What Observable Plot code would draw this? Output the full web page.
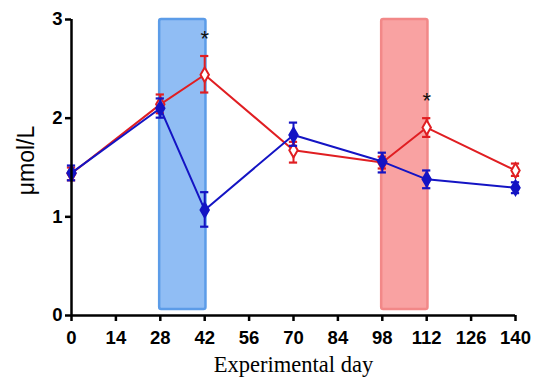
<!DOCTYPE html>
<html>
<head>
<meta charset="utf-8">
<script src="https://cdn.jsdelivr.net/npm/d3@7"></script>
<script src="https://cdn.jsdelivr.net/npm/@observablehq/plot@0.6"></script>
<style>
  html, body { margin: 0; padding: 0; background: #fff; }
</style>
</head>
<body>
<div id="chart"></div>
<script>
const days = [0, 28, 42, 70, 98, 112, 140];
const redMean = [1.44, 2.14, 2.44, 1.675, 1.55, 1.905, 1.47];
const redLo   = [1.37, 2.05, 2.26, 1.55, 1.49, 1.81, 1.415];
const redHi   = [1.50, 2.24, 2.63, 1.76, 1.61, 2.00, 1.54];
const blueMean = [1.445, 2.10, 1.07, 1.83, 1.56, 1.38, 1.295];
const blueLo   = [1.37, 2.005, 0.90, 1.72, 1.45, 1.29, 1.24];
const blueHi   = [1.52, 2.20, 1.25, 1.955, 1.65, 1.47, 1.35];
const xTicks = [0, 14, 28, 42, 56, 70, 84, 98, 112, 126, 140];
const yTicks = [0, 1, 2, 3];
const bandStart = [27.8, 97.8];
const bandEnd = [42.4, 112.4];
const bandTop = [3.0, 3.0];
const bandBottom = [0.06, 0.06];
const starDays = [42, 112];
const starValues = [2.8, 2.17];

const red = days.map((d, i) => ({day: d, mean: redMean[i], lo: redLo[i], hi: redHi[i]}));
const blue = days.map((d, i) => ({day: d, mean: blueMean[i], lo: blueLo[i], hi: blueHi[i]}));
const bands = bandStart.map((s, i) => ({x1: s, x2: bandEnd[i], y1: bandBottom[i], y2: bandTop[i]}));
const stars = starDays.map((d, i) => ({day: d, v: starValues[i]}));

const RED = "#e01e22";
const BLUE = "#1414c4";
const cap = 1.3;

function series(data, color, fill) {
  return [
    Plot.line(data, {x: "day", y: "mean", stroke: color, strokeWidth: 2}),
    Plot.ruleX(data, {x: "day", y1: "lo", y2: "hi", stroke: color, strokeWidth: 2}),
    Plot.ruleY(data, {x1: d => d.day - cap, x2: d => d.day + cap, y: "hi", stroke: color, strokeWidth: 2.2}),
    Plot.ruleY(data, {x1: d => d.day - cap, x2: d => d.day + cap, y: "lo", stroke: color, strokeWidth: 2.2}),
    Plot.dot(data, {x: "day", y: "mean", symbol: "diamond", r: 4.4, stroke: color, strokeWidth: 2, fill: fill})
  ];
}

const chart = Plot.plot({
  width: 539,
  height: 385,
  marginLeft: 71,
  marginRight: 24,
  marginTop: 19,
  marginBottom: 70,
  style: {fontFamily: "'Liberation Sans', Arial, sans-serif", background: "#fff"},
  x: {domain: [0, 140]},
  y: {domain: [0, 3]},
  marks: [
    Plot.rect([bands[0]], {x1: "x1", x2: "x2", y1: "y1", y2: "y2", fill: "#90bdf4", stroke: "#5c9ce8", strokeWidth: 2.5, rx: 2}),
    Plot.rect([bands[1]], {x1: "x1", x2: "x2", y1: "y1", y2: "y2", fill: "#f9a2a2", stroke: "#f28888", strokeWidth: 2.5, rx: 2}),
    ...series(red, RED, "#fff"),
    ...series(blue, BLUE, BLUE),
    Plot.text(stars, {x: "day", y: "v", text: () => "*", fontSize: 22, fill: "#111"}),
    Plot.ruleY([0], {stroke: "#000", strokeWidth: 2.5}),
    Plot.ruleX([0], {stroke: "#000", strokeWidth: 2.5}),
    Plot.axisX({ticks: xTicks, tickFormat: d3.format("d"), tickSize: 6, strokeWidth: 2.5, stroke: "#000", fontSize: 18.5, fontWeight: "bold", fill: "#000", tickPadding: 9, label: null}),
    Plot.axisY({ticks: yTicks, tickFormat: d3.format("d"), tickSize: 6, strokeWidth: 2.5, stroke: "#000", fontSize: 18.5, fontWeight: "bold", fill: "#000", tickPadding: 3, label: null}),
    Plot.text(["μmol/L"], {frameAnchor: "left", textAnchor: "middle", rotate: -90, dx: -45, dy: -7, fontSize: 23, fill: "#000"}),
    Plot.text(["Experimental day"], {frameAnchor: "bottom", dy: 56, fontSize: 22.5, fill: "#000", fontFamily: "'Liberation Serif', 'Times New Roman', serif"})
  ]
});
document.getElementById("chart").appendChild(chart);
</script>
</body>
</html>
